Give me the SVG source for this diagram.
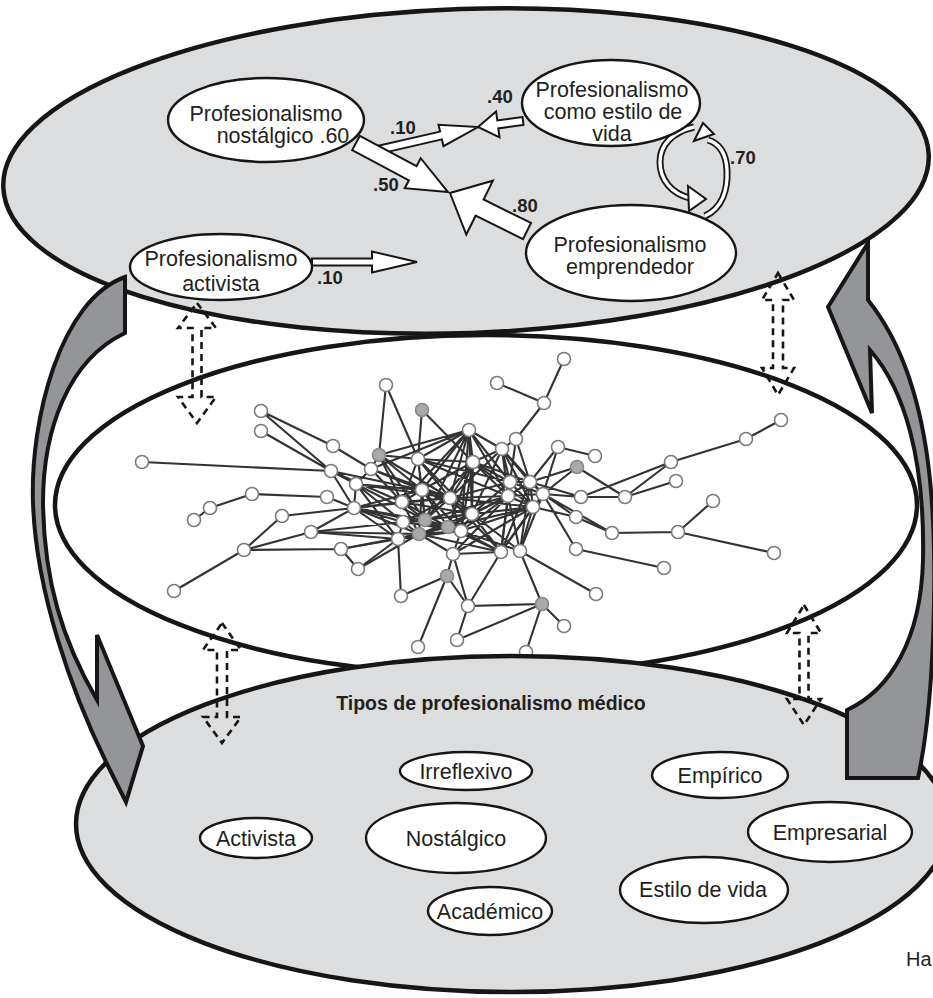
<svg xmlns="http://www.w3.org/2000/svg" width="933" height="998" viewBox="0 0 933 998">
<defs>
<style>
.disk{fill:#dcdddf;stroke:#161616;stroke-width:4.5}
.plane{fill:#fff;stroke:#161616;stroke-width:4.5}
.node{fill:#fff;stroke:#161616;stroke-width:2.4}
.lbl{font-family:"Liberation Sans",Arial,sans-serif;font-size:21.5px;fill:#231f20;text-anchor:middle}
.coef{font-family:"Liberation Sans",Arial,sans-serif;font-size:18.5px;font-weight:bold;fill:#231f20}
.title{font-family:"Liberation Sans",Arial,sans-serif;font-size:19.5px;font-weight:bold;fill:#231f20;text-anchor:middle}
.blk{fill:#fff;stroke:#161616;stroke-width:2;stroke-linejoin:miter}
.ring{fill:none;stroke:#161616;stroke-width:7}
.ringin{fill:none;stroke:#fff;stroke-width:3.4}
.cyc{fill:#939598;stroke:#161616;stroke-width:4;stroke-linejoin:miter}
.dash{fill:none;stroke:#161616;stroke-width:2.6;stroke-dasharray:7 5}
.edge{fill:none;stroke:#333;stroke-width:2.1}
.v{fill:#fff;stroke:#7b7b7b;stroke-width:1.6}
.vg{fill:#a9a9a9;stroke:#888;stroke-width:1.6}
</style>
</defs>

<!-- upper plane: types of professionalism and their relations -->
<g id="plane-top">
<ellipse class="disk" cx="466" cy="171" rx="463" ry="162" transform="rotate(-2 466 171)"/>
</g>

<!-- middle plane: network -->
<g id="plane-network">
<ellipse class="plane" cx="486" cy="505" rx="431" ry="170"/>
<path class="edge" d="M261 411L333 446M261 411L331 471M261 431L331 471M333 446L371 469M142 462L331 471M386 385L379 455M386 385L418 459M422 410L418 459M379 455L418 459M379 455L371 469M371 469L356 484M331 471L356 484M331 471L354 508M252 494L327 497M252 494L210 508M210 508L194 520M327 497L354 508M282 516L354 508M282 516L244 550M244 550L311 532M244 550L341 549M244 550L174 591M311 532L354 508M311 532L398 539M311 532L403 522M341 549L398 539M341 549L358 569M358 569L398 539M401 596L398 539M401 596L447 576M418 647L447 576M356 484L354 508M371 469L402 502M371 469L422 490M379 455L422 490M379 455L402 502M418 459L422 490M418 459L402 502M422 490L402 502M402 502L354 508M354 508L398 539M354 508L403 522M403 522L398 539M356 484L398 539M356 484L403 522M422 490L425 520M422 490L419 534M422 490L448 527M402 502L425 520M402 502L419 534M403 522L425 520M403 522L419 534M425 520L448 527M419 534L448 527M418 459L473 462M418 459L450 498M422 490L450 498M422 490L473 462M402 502L450 498M425 520L450 498M419 534L461 531M448 527L461 531M448 527L472 514M425 520L472 514M469 430L450 498M469 430L473 462M469 430L472 514M469 430L425 520M469 430L422 490M469 430L418 459M469 430L402 502M473 462L450 498M473 462L472 514M473 462L510 482M473 462L508 496M450 498L508 496M450 498L472 514M450 498L461 531M472 514L461 531M472 514L508 496M472 514L533 507M508 496L533 507M510 482L533 507M508 496L530 482M530 482L533 507M502 449L473 462M502 449L450 498M502 449L510 482M502 449L508 496M516 439L502 449M516 439L510 482M516 439L530 482M544 403L516 439M564 359L544 403M497 383L544 403M558 447L595 456M558 447L530 482M577 467L530 482M577 467L543 494M577 467L625 497M530 482L543 494M543 494L581 497M581 497L625 497M671 462L581 497M671 462L625 497M676 481L625 497M781 420L746 439M746 439L671 462M543 494L612 533M612 533L678 532M678 532L713 501M678 532L774 553M543 494L576 549M576 549L664 568M501 552L533 507M520 551L533 507M520 551L596 594M501 552L453 554M453 554L447 576M453 554L468 606M468 606L501 552M542 604L520 551M542 604L468 606M542 604L564 626M542 604L457 640M542 604L526 652M468 606L457 640M447 576L468 606M419 534L453 554M448 527L501 552M461 531L501 552M461 531L453 554M398 539L419 534M354 508L425 520M354 508L422 490M403 522L448 527M418 459L425 520M543 494L576 517M576 517L612 533M533 507L576 517M510 482L530 482M502 449L530 482M469 430L502 449M473 462L461 531M508 496L461 531M510 482L472 514M508 496L501 552M558 447L543 494M530 482L581 497"/>
<path class="edge" d="M418 459L510 482M418 459L508 496M418 459L472 514M422 490L472 514M422 490L461 531M402 502L472 514M402 502L448 527M403 522L450 498M403 522L472 514M425 520L461 531M419 534L472 514M354 508L450 498M354 508L419 534M354 508L448 527M356 484L450 498M356 484L422 490M356 484L425 520M371 469L450 498M379 455L450 498M379 455L425 520M469 430L510 482M469 430L508 496M469 430L461 531M473 462L448 527M473 462L425 520M473 462L533 507M473 462L530 482M450 498L510 482M450 498L533 507M450 498L501 552M472 514L501 552M472 514L520 551M461 531L520 551M461 531L533 507M448 527L508 496M448 527L533 507M425 520L508 496M419 534L501 552M510 482L543 494M510 482L501 552M508 496L543 494M508 496L520 551M502 449L543 494M502 449L533 507M502 449L472 514M530 482L501 552M530 482L520 551M543 494L520 551M543 494L501 552M533 507L453 554M453 554L508 496M398 539L461 531M398 539L448 527M403 522L461 531M358 569L419 534M341 549L419 534M311 532L419 534M331 471L422 490M331 471L402 502M469 430L371 469M469 430L379 455M422 410L473 462"/>
<g id="vertices">
<circle class="v" cx="386" cy="385" r="6.5"/><circle class="vg" cx="422" cy="410" r="6.5"/><circle class="v" cx="261" cy="411" r="6.5"/><circle class="v" cx="261" cy="431" r="6.5"/><circle class="v" cx="333" cy="446" r="6.5"/><circle class="vg" cx="379" cy="455" r="6.5"/><circle class="v" cx="418" cy="459" r="6.5"/><circle class="v" cx="142" cy="462" r="6.5"/><circle class="v" cx="331" cy="471" r="6.5"/><circle class="v" cx="371" cy="469" r="6.5"/><circle class="v" cx="356" cy="484" r="6.5"/><circle class="v" cx="422" cy="490" r="6.5"/><circle class="v" cx="252" cy="494" r="6.5"/><circle class="v" cx="327" cy="497" r="6.5"/><circle class="v" cx="402" cy="502" r="6.5"/><circle class="v" cx="210" cy="508" r="6.5"/><circle class="v" cx="354" cy="508" r="6.5"/><circle class="v" cx="194" cy="520" r="6.5"/><circle class="v" cx="282" cy="516" r="6.5"/><circle class="v" cx="403" cy="522" r="6.5"/><circle class="vg" cx="425" cy="520" r="6.5"/><circle class="v" cx="311" cy="532" r="6.5"/><circle class="vg" cx="419" cy="534" r="6.5"/><circle class="vg" cx="448" cy="527" r="6.5"/><circle class="v" cx="398" cy="539" r="6.5"/><circle class="v" cx="244" cy="550" r="6.5"/><circle class="v" cx="341" cy="549" r="6.5"/><circle class="v" cx="358" cy="569" r="6.5"/><circle class="vg" cx="447" cy="576" r="6.5"/><circle class="v" cx="174" cy="591" r="6.5"/><circle class="v" cx="401" cy="596" r="6.5"/><circle class="v" cx="418" cy="647" r="6.5"/><circle class="v" cx="564" cy="359" r="6.5"/><circle class="v" cx="497" cy="383" r="6.5"/><circle class="v" cx="544" cy="403" r="6.5"/><circle class="v" cx="469" cy="430" r="6.5"/><circle class="v" cx="516" cy="439" r="6.5"/><circle class="v" cx="781" cy="420" r="6.5"/><circle class="v" cx="746" cy="439" r="6.5"/><circle class="v" cx="502" cy="449" r="6.5"/><circle class="v" cx="558" cy="447" r="6.5"/><circle class="v" cx="595" cy="456" r="6.5"/><circle class="v" cx="473" cy="462" r="6.5"/><circle class="vg" cx="577" cy="467" r="6.5"/><circle class="v" cx="671" cy="462" r="6.5"/><circle class="v" cx="676" cy="481" r="6.5"/><circle class="v" cx="510" cy="482" r="6.5"/><circle class="v" cx="530" cy="482" r="6.5"/><circle class="v" cx="450" cy="498" r="6.5"/><circle class="v" cx="508" cy="496" r="6.5"/><circle class="v" cx="543" cy="494" r="6.5"/><circle class="v" cx="581" cy="497" r="6.5"/><circle class="v" cx="625" cy="497" r="6.5"/><circle class="v" cx="713" cy="501" r="6.5"/><circle class="v" cx="533" cy="507" r="6.5"/><circle class="v" cx="472" cy="514" r="6.5"/><circle class="v" cx="576" cy="517" r="6.5"/><circle class="v" cx="461" cy="531" r="6.5"/><circle class="v" cx="612" cy="533" r="6.5"/><circle class="v" cx="678" cy="532" r="6.5"/><circle class="v" cx="774" cy="553" r="6.5"/><circle class="v" cx="453" cy="554" r="6.5"/><circle class="v" cx="501" cy="552" r="6.5"/><circle class="v" cx="520" cy="551" r="6.5"/><circle class="v" cx="576" cy="549" r="6.5"/><circle class="v" cx="664" cy="568" r="6.5"/><circle class="v" cx="596" cy="594" r="6.5"/><circle class="v" cx="468" cy="606" r="6.5"/><circle class="vg" cx="542" cy="604" r="6.5"/><circle class="v" cx="564" cy="626" r="6.5"/><circle class="v" cx="457" cy="640" r="6.5"/><circle class="v" cx="526" cy="652" r="6.5"/>
</g>
</g>

<!-- lower plane: typology -->
<g id="plane-bottom">
<ellipse class="disk" cx="512" cy="824" rx="436" ry="168"/>
<text class="title" x="491" y="710">Tipos de profesionalismo médico</text>
</g>

<!-- relations between the upper-plane types -->
<g id="connectors">
<polygon class="blk" points="312,258.5 372,258.5 372,251.5 417,262 372,272.5 372,265.5 312,265.5"/>
<polygon class="blk" points="378.9,153.9 441.9,139.4 443.5,146.2 478,127 438.5,124.8 440.1,131.6 377.1,146.1"/>
<polygon class="blk" points="522.5,117 497.3,120.4 496.1,111.5 478,127 499.5,137.3 498.3,128.4 523.5,125"/>
<polygon class="blk" points="352.2,150.1 408.9,180.3 404.7,188.2 448,192 420.7,158.2 416.5,166.1 359.8,135.9"/>
<polygon class="blk" points="531,222.9 483.6,199.5 492.9,180.7 450,193 466.3,234.5 475.6,215.7 523,239.1"/>
<path class="ring" d="M694,127 C672,132 660,145 660,162 C660,180 672,194 690,198"/>
<path class="ringin" d="M694,127 C672,132 660,145 660,162 C660,180 672,194 690,198"/>
<path class="ring" d="M705,216 C722,208 728,190 727,170 C726,152 718,143 708,140"/>
<path class="ringin" d="M705,216 C722,208 728,190 727,170 C726,152 718,143 708,140"/>
<polygon class="blk" points="688,186 706,199 689,211"/>
<polygon class="blk" points="694,141 703,123 714,134"/>
<text class="coef" x="317" y="284">.10</text>
<text class="coef" x="390" y="134">.10</text>
<text class="coef" x="487" y="103">.40</text>
<text class="coef" x="373" y="191">.50</text>
<text class="coef" x="512" y="212">.80</text>
<text class="coef" x="730" y="164">.70</text>
</g>

<g id="type-nostalgico">
<ellipse class="node" cx="266" cy="120" rx="98" ry="42"/>
<text class="lbl" x="266" y="121">Profesionalismo</text>
<text class="lbl" x="283" y="143">nostálgico .60</text>
</g>
<g id="type-estilo-vida">
<ellipse class="node" cx="611" cy="103" rx="89" ry="43"/>
<text class="lbl" x="612" y="97">Profesionalismo</text>
<text class="lbl" x="613" y="119">como estilo de</text>
<text class="lbl" x="612" y="141">vida</text>
</g>
<g id="type-emprendedor">
<ellipse class="node" cx="631" cy="253" rx="105" ry="48"/>
<text class="lbl" x="630" y="252">Profesionalismo</text>
<text class="lbl" x="630" y="274">emprendedor</text>
</g>
<g id="type-activista">
<ellipse class="node" cx="221" cy="267" rx="91" ry="33"/>
<text class="lbl" x="221" y="266">Profesionalismo</text>
<text class="lbl" x="221" y="291">activista</text>
</g>

<!-- typology nodes -->
<g id="t-irreflexivo"><ellipse class="node" cx="466" cy="771" rx="66" ry="19"/><text class="lbl" x="466" y="779">Irreflexivo</text></g>
<g id="t-empirico"><ellipse class="node" cx="720" cy="775" rx="68" ry="23"/><text class="lbl" x="720" y="783">Empírico</text></g>
<g id="t-activista"><ellipse class="node" cx="256" cy="838" rx="56" ry="20"/><text class="lbl" x="256" y="846">Activista</text></g>
<g id="t-nostalgico"><ellipse class="node" cx="456" cy="838" rx="90" ry="35"/><text class="lbl" x="456" y="846">Nostálgico</text></g>
<g id="t-empresarial"><ellipse class="node" cx="830" cy="832" rx="82" ry="30"/><text class="lbl" x="830" y="840">Empresarial</text></g>
<g id="t-estilo"><ellipse class="node" cx="704" cy="890" rx="84" ry="33"/><text class="lbl" x="703" y="897">Estilo de vida</text></g>
<g id="t-academico"><ellipse class="node" cx="490" cy="911" rx="62" ry="24"/><text class="lbl" x="490" y="919">Académico</text></g>

<!-- cycle arrows around the planes -->
<g id="cycle">
<path class="cyc" d="M125,277 C60,300 30,420 33,503 C36,590 70,690 110,770 L126,802 L143,746 L97,635 L97,700 C62,640 44,580 43,503 C43,430 68,360 125,333 Z"/>
<path class="cyc" d="M868,243 L828,307 L872,413 L870,350 C905,390 925,460 923,560 C921,640 890,690 847,710 L847,778 L918,778 C935,700 938,560 930,480 C922,400 900,340 868,300 Z"/>
</g>

<!-- two-way links between planes -->
<g id="links">
<path class="dash" d="M197,303 L216,328 L201.5,328 L201.5,397 L216,397 L197,423 L178,397 L192.5,397 L192.5,328 L178,328 Z"/>
<path class="dash" d="M778,273 L794,300 L783,300 L783,368 L794,368 L778,395 L762,368 L773,368 L773,300 L762,300 Z"/>
<path class="dash" d="M222,623 L241,650 L227,650 L227,717 L241,717 L222,743 L203,717 L217,717 L217,650 L203,650 Z"/>
<path class="dash" d="M804,605 L821,633 L808.5,633 L808.5,699 L821,699 L804,725 L787,699 L799.5,699 L799.5,633 L787,633 Z"/>
</g>

<text x="906" y="966" style="font-family:'Liberation Sans',Arial,sans-serif;font-size:20px;fill:#231f20">Ha</text>
</svg>
